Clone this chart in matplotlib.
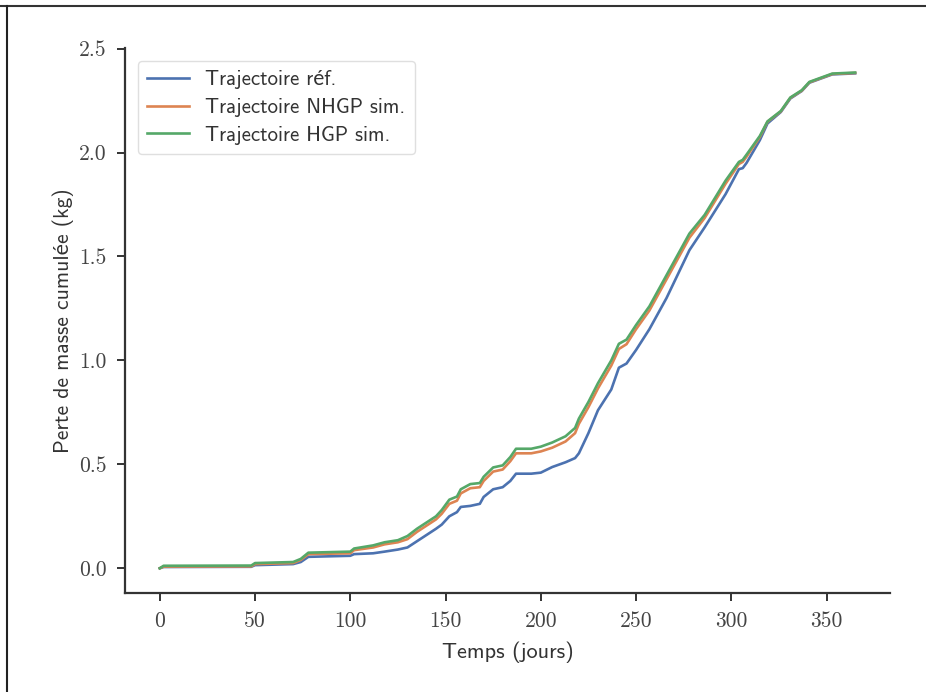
import matplotlib
matplotlib.use("Agg")
import matplotlib.pyplot as plt
from matplotlib.lines import Line2D

days = [0, 2, 48, 50, 70, 74, 78, 100, 102, 112, 118, 125, 130, 135, 140, 145, 148,
        152, 156, 158, 163, 168, 170, 175, 180, 184, 187, 195, 200, 206, 213, 218,
        220, 225, 230, 237, 241, 245, 250, 257, 266, 278, 286, 297, 304, 306, 308,
        315, 319, 326, 331, 337, 341, 353, 365]

ref_vals = [0, 0.006, 0.007, 0.015, 0.02, 0.03, 0.055, 0.06, 0.068, 0.072, 0.08, 0.09,
            0.10, 0.13, 0.16, 0.19, 0.21, 0.25, 0.27, 0.295, 0.30, 0.31, 0.343, 0.38,
            0.39, 0.42, 0.455, 0.455, 0.46, 0.487, 0.51, 0.53, 0.553, 0.65, 0.76, 0.86,
            0.965, 0.985, 1.05, 1.15, 1.30, 1.53, 1.64, 1.80, 1.92, 1.925, 1.95, 2.06,
            2.14, 2.195, 2.26, 2.296, 2.336, 2.376, 2.381]

nhgp_vals = [0, 0.008, 0.009, 0.02, 0.025, 0.04, 0.068, 0.072, 0.087, 0.10, 0.115,
             0.125, 0.14, 0.175, 0.205, 0.235, 0.262, 0.31, 0.325, 0.36, 0.385, 0.39,
             0.42, 0.465, 0.475, 0.515, 0.553, 0.553, 0.562, 0.58, 0.61, 0.65, 0.695,
             0.775, 0.865, 0.975, 1.055, 1.078, 1.15, 1.24, 1.39, 1.59, 1.685, 1.85,
             1.945, 1.955, 1.98, 2.075, 2.148, 2.198, 2.263, 2.298, 2.338, 2.378, 2.383]

hgp_vals = [0, 0.012, 0.013, 0.025, 0.03, 0.045, 0.075, 0.08, 0.095, 0.11, 0.125,
            0.135, 0.155, 0.19, 0.22, 0.25, 0.28, 0.33, 0.345, 0.38, 0.405, 0.41, 0.44,
            0.485, 0.495, 0.535, 0.575, 0.575, 0.585, 0.605, 0.635, 0.675, 0.72, 0.80,
            0.89, 1.0, 1.08, 1.10, 1.17, 1.26, 1.41, 1.61, 1.70, 1.865, 1.955, 1.965,
            1.99, 2.08, 2.15, 2.20, 2.265, 2.30, 2.34, 2.38, 2.385]

labels = ["Trajectoire réf.", "Trajectoire NHGP sim.", "Trajectoire HGP sim."]
colors = ["#4c72b0", "#dd8452", "#55a868"]
xticks = [0, 50, 100, 150, 200, 250, 300, 350]
yticks = [0.0, 0.5, 1.0, 1.5, 2.0, 2.5]
ytick_labels = ["0.0", "0.5", "1.0", "1.5", "2.0", "2.5"]

sans = ["cmss10", "Lato"]

fig = plt.figure(figsize=(9.26, 6.92), dpi=100)
ax = fig.add_axes([0.135, 0.143, 0.826, 0.788])

for vals, lab, col in zip([ref_vals, nhgp_vals, hgp_vals], labels, colors):
    ax.plot(days, vals, color=col, lw=1.9, label=lab)

for s in ["top", "right"]:
    ax.spines[s].set_visible(False)
for s in ["left", "bottom"]:
    ax.spines[s].set_color("#333333")
    ax.spines[s].set_linewidth(1.6)

ax.set_xticks(xticks)
ax.set_yticks(yticks)
ax.set_yticklabels(ytick_labels)
ax.tick_params(axis="both", direction="out", length=6, width=1.4, color="#333333",
               labelsize=15.5, labelcolor="#444444", pad=7)
for t in ax.get_xticklabels() + ax.get_yticklabels():
    t.set_fontfamily("cmr10")

ax.set_xlabel("Temps (jours)", fontsize=16, family=sans, color="#333333", labelpad=8)
ax.set_ylabel("Perte de masse cumulée (kg)", fontsize=15.5, family=sans,
              color="#333333", labelpad=4)

leg = ax.legend(loc="upper left", prop={"family": sans, "size": 15},
                frameon=True, fancybox=True, handlelength=2.0, borderpad=0.45,
                labelspacing=0.42, handletextpad=0.8, bbox_to_anchor=(0.003, 0.995))
leg.get_frame().set_edgecolor("#d8d8d8")
leg.get_frame().set_linewidth(1.0)
for t in leg.get_texts():
    t.set_color("#333333")

fig.add_artist(Line2D([0, 1], [1 - 6 / 692, 1 - 6 / 692], transform=fig.transFigure,
                      color="#333333", lw=1.5))
fig.add_artist(Line2D([7 / 926, 7 / 926], [0, 1 - 6 / 692], transform=fig.transFigure,
                      color="#222222", lw=1.5))

fig.savefig("out.png", dpi=100)
